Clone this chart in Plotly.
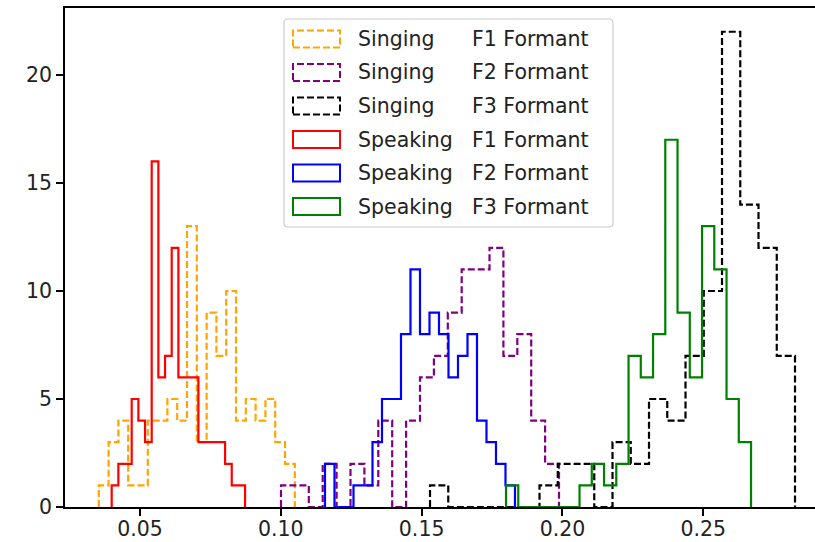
import plotly.graph_objects as go

# ---- data: 20-bin step histograms, [first edge, last edge] and bin counts ----
sing_f1_range = [0.03537, 0.10497]
sing_f1_counts = [1, 3, 4, 1, 1, 4, 4, 5, 4, 13, 3, 9, 7, 10, 4, 5, 4, 5, 3, 2]
sing_f2_range = [0.10006, 0.19877]
sing_f2_counts = [1, 1, 0, 2, 0, 2, 1, 4, 0, 4, 6, 7, 9, 11, 11, 12, 7, 8, 4, 2]
sing_f3_range = [0.15297, 0.28256]
sing_f3_counts = [1, 0, 0, 0, 0, 0, 1, 2, 2, 0, 3, 2, 5, 4, 7, 10, 22, 14, 12, 7]
speak_f1_range = [0.03995, 0.08731]
speak_f1_counts = [1, 2, 2, 5, 4, 3, 16, 6, 7, 12, 6, 6, 6, 3, 3, 3, 3, 2, 1, 1]
speak_f2_range = [0.11568, 0.18314]
speak_f2_counts = [2, 0, 0, 1, 1, 3, 5, 5, 8, 11, 8, 9, 8, 6, 7, 8, 4, 3, 2, 1]
speak_f3_range = [0.17996, 0.26695]
speak_f3_counts = [1, 0, 0, 0, 0, 0, 1, 2, 1, 2, 7, 6, 8, 17, 9, 6, 13, 11, 5, 3]

series_words = ["Singing", "Singing", "Singing", "Speaking", "Speaking", "Speaking"]
series_formants = ["F1 Formant", "F2 Formant", "F3 Formant",
                   "F1 Formant", "F2 Formant", "F3 Formant"]
series_colors = ["#FFA500", "#800080", "#000000", "#FF0000", "#0000FF", "#008000"]
series_dash = ["7px,3px", "7px,3px", "7px,3px", "solid", "solid", "solid"]
series_ranges = [sing_f1_range, sing_f2_range, sing_f3_range,
                 speak_f1_range, speak_f2_range, speak_f3_range]
series_counts = [sing_f1_counts, sing_f2_counts, sing_f3_counts,
                 speak_f1_counts, speak_f2_counts, speak_f3_counts]

x_ticks = [0.05, 0.10, 0.15, 0.20, 0.25]
x_ticktext = ["0.05", "0.10", "0.15", "0.20", "0.25"]
y_ticks = [0, 5, 10, 15, 20]

FONT = "DejaVu Sans"
FS = 20.5
TXT = "#222222"
W, H = 815, 542
ML, MR, MT, MB = 65, 0, 8, 35
PW, PH = W - ML - MR, H - MT - MB


def step_path(rng, counts):
    n = len(counts)
    lo, hi = rng
    w = (hi - lo) / n
    edges = [lo + i * w for i in range(n + 1)]
    xs, ys = [edges[0]], [0]
    for i, c in enumerate(counts):
        xs += [edges[i], edges[i + 1]]
        ys += [c, c]
    xs.append(edges[-1])
    ys.append(0)
    return xs, ys


fig = go.Figure()
for word, form, col, dash, rng, cnt in zip(series_words, series_formants, series_colors,
                                           series_dash, series_ranges, series_counts):
    xs, ys = step_path(rng, cnt)
    fig.add_trace(go.Scatter(x=xs, y=ys, mode="lines", name=f"{word} {form}",
                             line=dict(color=col, width=2.2, dash=dash),
                             showlegend=False, hoverinfo="skip"))

# x range so that the visible area ends at the window edge (reference is cropped)
px_per_unit = 2816.5
x_left = 0.05 - (140 - ML) / px_per_unit
x_right = 0.05 + (W - 140) / px_per_unit

fig.update_layout(
    width=W, height=H,
    margin=dict(l=ML, r=MR, t=MT, b=MB, pad=0),
    paper_bgcolor="white", plot_bgcolor="white",
    font=dict(family=FONT, size=FS, color=TXT),
    xaxis=dict(range=[x_left, x_right], tickvals=x_ticks, ticktext=x_ticktext,
               showgrid=False, zeroline=False, showline=True, linecolor="black",
               linewidth=1.5, mirror=True, ticks="outside", ticklen=7, tickwidth=1.5,
               tickcolor="black", tickfont=dict(size=FS, color=TXT), automargin=False,
               ticklabelstandoff=-4),
    yaxis=dict(range=[0, 23.1], tickvals=y_ticks, showgrid=False, zeroline=False,
               showline=True, linecolor="black", linewidth=1.5, mirror=False,
               ticks="outside", ticklen=7, tickwidth=1.5, tickcolor="black",
               tickfont=dict(size=FS, color=TXT), automargin=False),
)


def px(xp):
    return (xp - ML) / PW


def py(yp):
    return (H - MB - yp) / PH


def rounded_rect(x0, y0, x1, y1, r):
    rx, ry = r / PW, r / PH
    X0, X1 = px(x0), px(x1)
    Y0, Y1 = py(y1), py(y0)  # Y0 bottom, Y1 top (paper)
    return (f"M {X0+rx},{Y0} L {X1-rx},{Y0} Q {X1},{Y0} {X1},{Y0+ry} "
            f"L {X1},{Y1-ry} Q {X1},{Y1} {X1-rx},{Y1} L {X0+rx},{Y1} "
            f"Q {X0},{Y1} {X0},{Y1-ry} L {X0},{Y0+ry} Q {X0},{Y0} {X0+rx},{Y0} Z")


# ---- legend (drawn manually to reproduce patch-style handles) ----
shapes = [dict(type="path", xref="paper", yref="paper",
               path=rounded_rect(284, 19, 613, 227, 4),
               line=dict(color="#cccccc", width=1.2),
               fillcolor="rgba(255,255,255,0.8)", layer="above")]
annotations = []
row_y0, row_dy = 39.0, 33.5
for i, (word, form, col, dash) in enumerate(zip(series_words, series_formants,
                                                 series_colors, series_dash)):
    yc = row_y0 + i * row_dy
    shapes.append(dict(type="rect", xref="paper", yref="paper",
                       x0=px(293), x1=px(340), y0=py(yc + 8.5), y1=py(yc - 8.5),
                       line=dict(color=col, width=2.0, dash=dash),
                       fillcolor="rgba(0,0,0,0)", layer="above"))
    annotations.append(dict(xref="paper", yref="paper", x=px(356), y=py(yc),
                            text=word, showarrow=False, xanchor="left",
                            yanchor="middle", font=dict(family=FONT, size=FS,
                                                        color=TXT)))
    annotations.append(dict(xref="paper", yref="paper", x=px(469.5), y=py(yc),
                            text=form, showarrow=False, xanchor="left",
                            yanchor="middle", font=dict(family=FONT, size=FS,
                                                        color=TXT)))

fig.update_layout(shapes=shapes, annotations=annotations)
fig.write_html("out.html", config={"displayModeBar": False},
               post_script="document.body.style.margin='0';"
                           "document.body.style.overflow='hidden';")
